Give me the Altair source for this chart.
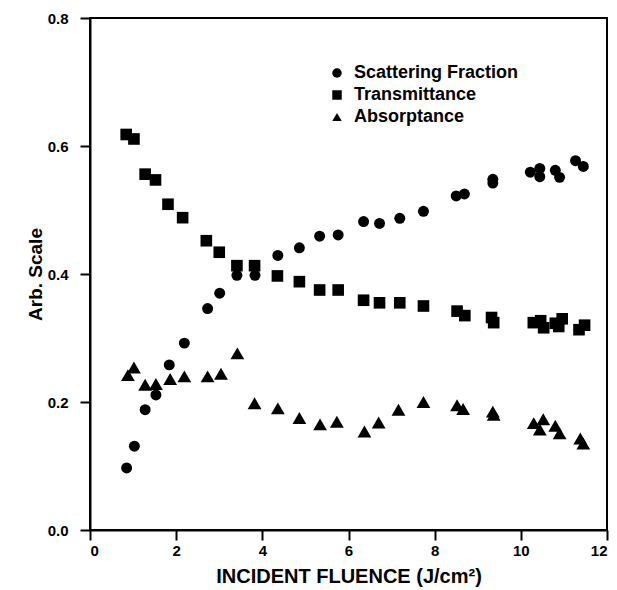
import altair as alt
import pandas as pd

series_names = ["Scattering Fraction", "Transmittance", "Absorptance"]
marker_sizes = [120, 135, 190]

scatter_x = [0.85, 1.03, 1.28, 1.53, 1.84, 2.19, 2.73, 3.01, 3.41, 3.83, 4.36, 4.86, 5.33, 5.76,
             6.35, 6.72, 7.19, 7.74, 8.50, 8.69, 9.35, 9.35, 10.22, 10.44, 10.44, 10.80, 10.90,
             11.27, 11.45]
scatter_y = [0.097, 0.131, 0.188, 0.211, 0.258, 0.292, 0.346, 0.370, 0.398, 0.398, 0.429, 0.441,
             0.459, 0.461, 0.482, 0.479, 0.487, 0.498, 0.522, 0.525, 0.548, 0.542, 0.559, 0.565,
             0.552, 0.562, 0.551, 0.577, 0.568]

trans_x = [0.84, 1.02, 1.28, 1.52, 1.81, 2.15, 2.70, 3.00, 3.41, 3.82, 4.35, 4.86, 5.33, 5.76,
           6.35, 6.72, 7.19, 7.74, 8.52, 8.70, 9.32, 9.37, 10.29, 10.46, 10.53, 10.80, 10.88,
           10.96, 11.35, 11.48]
trans_y = [0.618, 0.611, 0.556, 0.547, 0.509, 0.488, 0.452, 0.434, 0.413, 0.413, 0.397, 0.388,
           0.375, 0.375, 0.359, 0.355, 0.355, 0.350, 0.342, 0.335, 0.332, 0.324, 0.324, 0.327,
           0.316, 0.323, 0.318, 0.330, 0.313, 0.320]

abs_x = [0.88, 1.02, 1.28, 1.53, 1.86, 2.19, 2.73, 3.04, 3.42, 3.82, 4.36, 4.86, 5.34, 5.73,
         6.37, 6.70, 7.16, 7.74, 8.52, 8.66, 9.35, 9.37, 10.30, 10.44, 10.52, 10.80, 10.90,
         11.38, 11.45]
abs_y = [0.242, 0.254, 0.227, 0.228, 0.236, 0.240, 0.240, 0.244, 0.276, 0.198, 0.190, 0.175,
         0.165, 0.169, 0.154, 0.168, 0.188, 0.200, 0.195, 0.189, 0.185, 0.180, 0.167, 0.157,
         0.173, 0.163, 0.151, 0.143, 0.135]

x_ticks = [0, 2, 4, 6, 8, 10, 12]
y_ticks = [0.0, 0.2, 0.4, 0.6, 0.8]

frames = []
for name, xs, ys in [(series_names[0], scatter_x, scatter_y),
                     (series_names[1], trans_x, trans_y),
                     (series_names[2], abs_x, abs_y)]:
    frames.append(pd.DataFrame({"fluence": xs, "value": ys, "series": name}))
df = pd.concat(frames, ignore_index=True)

FONT = "Liberation Sans"

base = alt.Chart(df).encode(
    x=alt.X("fluence:Q",
            scale=alt.Scale(domain=[0, 12], nice=False, zero=False),
            axis=alt.Axis(values=x_ticks, format="d", title="INCIDENT FLUENCE (J/cm²)",
                          titleFontSize=20, labelFontSize=15, labelPadding=3,
                          titlePadding=8)),
    y=alt.Y("value:Q",
            scale=alt.Scale(domain=[0, 0.8], nice=False, zero=False),
            axis=alt.Axis(values=y_ticks, format=".1f", title="Arb. Scale",
                          titleFontSize=19, labelFontSize=15, labelPadding=12,
                          titlePadding=2)),
    shape=alt.Shape("series:N",
                    scale=alt.Scale(domain=series_names,
                                    range=["circle", "square", "triangle-up"]),
                    legend=alt.Legend(title=None, orient="none", legendX=238, legendY=46,
                                      labelFontSize=18, labelFont=FONT, labelFontWeight="bold",
                                      labelLimit=400,
                                      symbolSize=90, symbolFillColor="black",
                                      symbolStrokeColor="black", symbolStrokeWidth=0,
                                      labelOffset=8, rowPadding=4, padding=0,
                                      labelColor="black")),
)

layers = [
    base.transform_filter(alt.datum.series == name).mark_point(
        filled=True, opacity=1, color="black", size=sz)
    for name, sz in zip(series_names, marker_sizes)
]

chart = alt.layer(*layers).properties(
    width=517,
    height=512,
    autosize=alt.AutoSizeParams(type="none"),
    padding={"left": 90, "top": 18, "right": 10, "bottom": 60},
    background="white",
).configure_view(
    stroke="black", strokeWidth=2
).configure_axis(
    domainColor="black", domainWidth=2, tickColor="black", tickWidth=2, tickSize=10,
    grid=False, labelFont=FONT, titleFont=FONT, labelFontWeight="bold",
    titleFontWeight="bold", labelColor="black", titleColor="black"
)

chart.save("out.html", embed_options={"renderer": "svg", "actions": False})
